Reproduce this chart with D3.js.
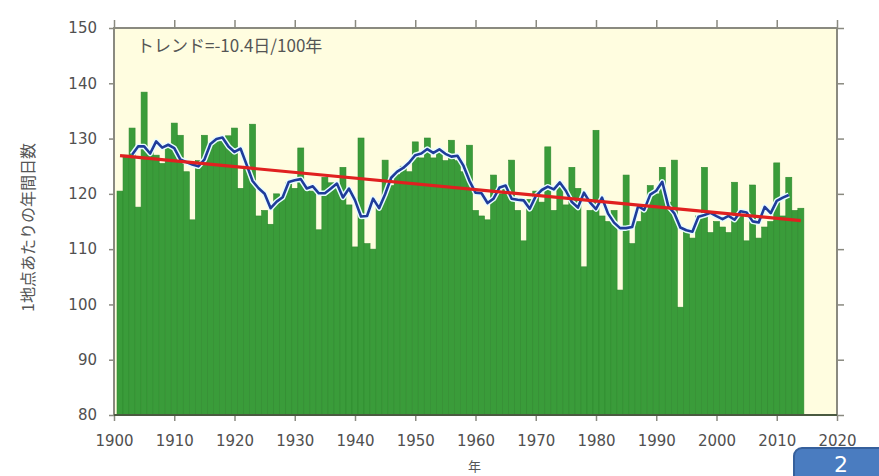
<!DOCTYPE html>
<html>
<head>
<meta charset="utf-8">
<script src="https://cdn.jsdelivr.net/npm/d3@7"></script>
<style>
  body { margin: 0; background: #fff; }
  svg { display: block; }
</style>
</head>
<body>
<svg id="chart" width="879" height="476"></svg>
<script>
// annual days per station, 1901-2014
var years = d3.range(1901, 2015);
var days = [
  120.5, 127, 131.9, 117.6, 138.4, 128, 127, 125.5, 128.5, 132.8,
  130.6, 124, 115.3, 126, 130.6, 129, 130, 129.5, 130.5, 131.9,
  121, 125, 132.6, 116, 117, 114.5, 120, 119.5, 122, 121,
  128.3, 121.5, 120.5, 113.5, 123, 122, 121.5, 124.8, 118, 110.4,
  130.1, 111, 110, 118.5, 126.1, 121.5, 123.5, 125, 124, 129.4,
  126.5, 130.1, 126.5, 128, 126, 129.7, 126, 124, 128.8, 117,
  116, 115.3, 123.4, 120, 121, 126.1, 117, 111.5, 119, 120.5,
  118.5, 128.5, 117, 122, 118, 124.8, 121, 106.8, 117, 131.5,
  116, 115, 117, 102.6, 123.4, 111, 115, 118, 121.5, 120,
  124.8, 118.5, 126.1, 99.5, 113.5, 112, 116, 124.8, 113, 115,
  114, 113, 122.1, 116, 111.5, 121.6, 112, 114, 115, 125.6,
  116, 123, 117, 117.4
];
var trendEnds = [{ year: 1901, value: 126.9 }, { year: 2014, value: 115.15 }];
var yTicks = [80, 90, 100, 110, 120, 130, 140, 150];
var xTicks = [1900, 1910, 1920, 1930, 1940, 1950, 1960, 1970, 1980, 1990, 2000, 2010, 2020];
var trendLabel = 'トレンド=-10.4日/100年';
var yLabel = '1地点あたりの年間日数';
var xLabel = '年';

var svg = d3.select('#chart');
var margin = { top: 28, right: 42, bottom: 61, left: 114 };
var W = 879 - margin.left - margin.right;
var H = 476 - margin.top - margin.bottom;

var x = d3.scaleLinear().domain([1900, 2020]).range([0, W]);
var y = d3.scaleLinear().domain([80, 150]).range([H, 0]);

var g = svg.append('g').attr('transform', 'translate(' + margin.left + ',' + margin.top + ')');

g.append('rect')
  .attr('width', W).attr('height', H)
  .attr('fill', '#fffde0');

// bars
g.selectAll('rect.bar')
  .data(years)
  .enter().append('rect')
  .attr('class', 'bar')
  .attr('x', function (d) { return x(d - 0.5); })
  .attr('width', x(1901) - x(1900))
  .attr('y', function (d, i) { return y(days[i]); })
  .attr('height', function (d, i) { return H - y(days[i]); })
  .attr('fill', '#3a9c3a')
  .attr('stroke', '#2f8a2f')
  .attr('stroke-width', 0.6);

// 5-year running mean
var ma = [];
for (var i = 2; i < days.length - 2; i++) {
  ma.push({ year: years[i], value: d3.mean(days.slice(i - 2, i + 3)) });
}
var line = d3.line()
  .x(function (d) { return x(d.year); })
  .y(function (d) { return y(d.value); });

g.append('path').datum(ma)
  .attr('d', line)
  .attr('fill', 'none')
  .attr('stroke', '#e8fbff')
  .attr('stroke-width', 5.5)
  .attr('stroke-linejoin', 'round');
g.append('path').datum(ma)
  .attr('d', line)
  .attr('fill', 'none')
  .attr('stroke', '#1f3c9a')
  .attr('stroke-width', 2.6)
  .attr('stroke-linejoin', 'round');

// trend
g.append('path').datum(trendEnds)
  .attr('d', line)
  .attr('fill', 'none')
  .attr('stroke', '#e02020')
  .attr('stroke-width', 3.2);

// frame and axes
var axisColor = '#8a8a80';
function styleAxis(sel) {
  sel.select('.domain').remove();
  sel.selectAll('line').attr('stroke', axisColor).attr('stroke-width', 1.5);
  sel.selectAll('text')
    .attr('fill', '#505050')
    .style('font-family', '"DejaVu Sans", sans-serif')
    .style('font-size', '15px');
}

g.append('g')
  .attr('transform', 'translate(0,' + H + ')')
  .call(d3.axisBottom(x).tickValues(xTicks).tickFormat(d3.format('d')).tickSize(6).tickPadding(14))
  .call(styleAxis);
g.append('g')
  .call(d3.axisTop(x).tickValues(xTicks).tickFormat('').tickSize(8))
  .call(styleAxis);
g.append('g')
  .call(d3.axisLeft(y).tickValues(yTicks).tickSize(5).tickPadding(12))
  .call(styleAxis);
g.append('g')
  .attr('transform', 'translate(' + W + ',0)')
  .call(d3.axisRight(y).tickValues(yTicks).tickFormat('').tickSize(7))
  .call(styleAxis);

g.append('rect')
  .attr('width', W).attr('height', H)
  .attr('fill', 'none')
  .attr('stroke', axisColor)
  .attr('stroke-width', 2);
g.append('line')
  .attr('x1', 0).attr('x2', W).attr('y1', H).attr('y2', H)
  .attr('stroke', '#4a5a40').attr('stroke-width', 2);

// texts
g.append('text')
  .attr('x', 23).attr('y', 24)
  .attr('fill', '#555')
  .style('font-family', '"Noto Sans CJK JP", sans-serif')
  .style('font-size', '17px')
  .text(trendLabel);

svg.append('text')
  .attr('transform', 'translate(27,' + (margin.top + H / 2 + 6) + ') rotate(-90)')
  .attr('text-anchor', 'middle')
  .attr('dominant-baseline', 'central')
  .attr('fill', '#555')
  .style('font-family', '"Noto Sans CJK JP", sans-serif')
  .style('font-size', '16px')
  .text(yLabel);

svg.append('text')
  .attr('x', margin.left + x(1960) - 1).attr('y', 471)
  .attr('text-anchor', 'middle')
  .attr('fill', '#555')
  .style('font-family', '"Noto Sans CJK JP", sans-serif')
  .style('font-size', '13px')
  .text(xLabel);

// page badge bottom-right
svg.append('rect')
  .attr('x', 794).attr('y', 448).attr('width', 100).attr('height', 50).attr('rx', 8)
  .attr('fill', '#4a7cc0').attr('stroke', '#36609c').attr('stroke-width', 2);
svg.append('text')
  .attr('x', 841).attr('y', 472)
  .attr('text-anchor', 'middle')
  .attr('fill', '#fff')
  .style('font-family', '"DejaVu Sans", sans-serif')
  .style('font-size', '22px')
  .text('2');
</script>
</body>
</html>
